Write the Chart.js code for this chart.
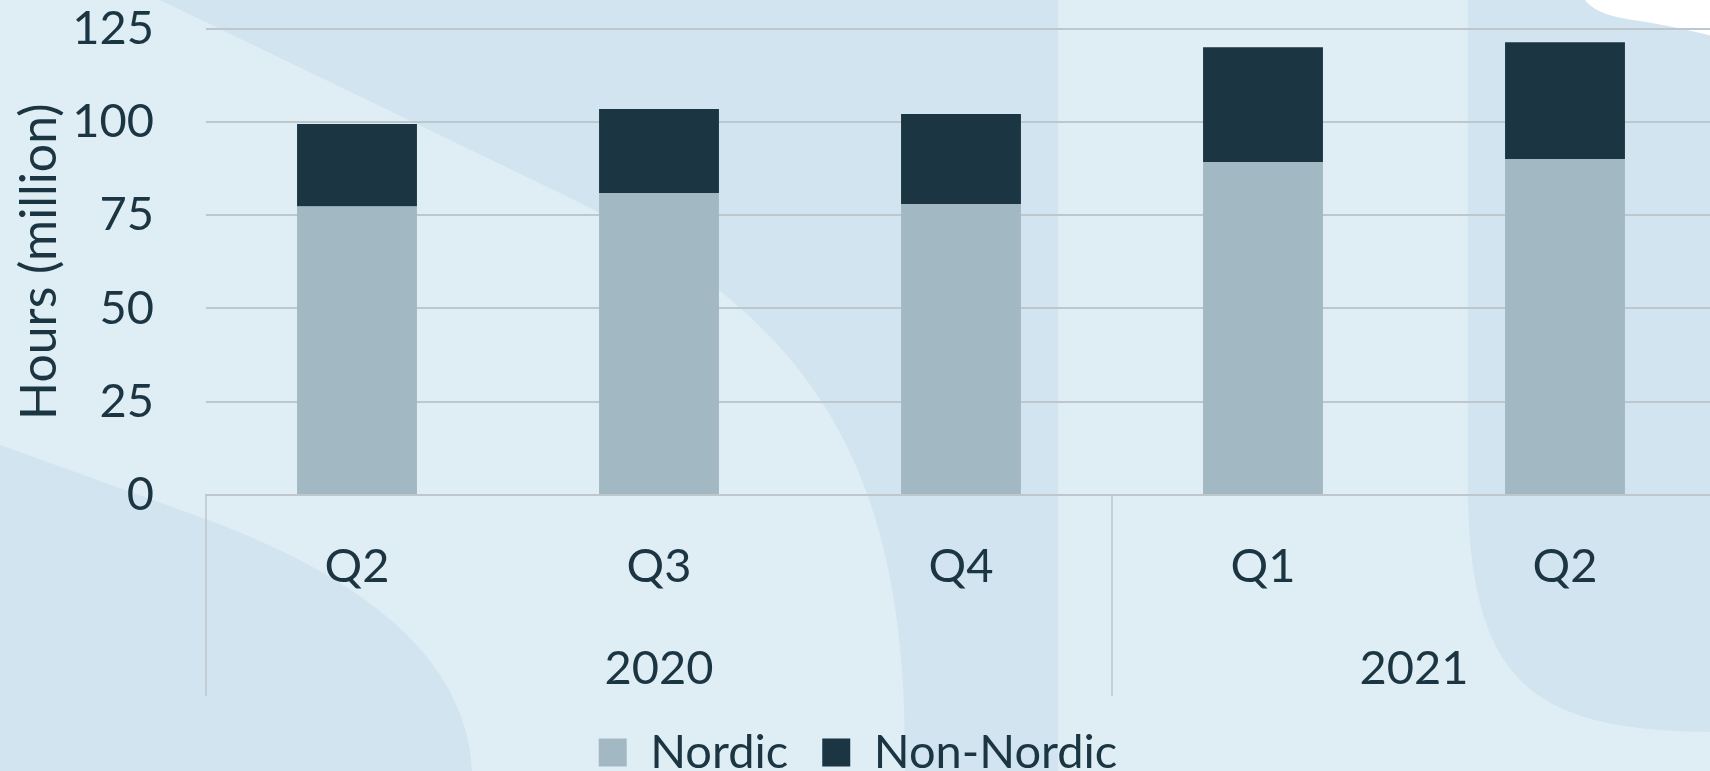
<!DOCTYPE html>
<html>
<head>
<meta charset="utf-8">
<script src="https://cdn.jsdelivr.net/npm/chart.js@4.4.0/dist/chart.umd.min.js"></script>
<style>
    html, body { margin: 0; padding: 0; width: 1710px; height: 771px; overflow: hidden; background: #dfedf5; }
    #wrap { position: relative; width: 1720px; height: 786px; }
</style>
</head>
<body>
<div id="wrap"><canvas id="hours" width="1720" height="786"></canvas></div>
<script>
// data
const quarters = ['Q2', 'Q3', 'Q4', 'Q1', 'Q2'];
const years = ['2020', '2021'];
const yearSpans = [3, 2];
const nordic = [77.3, 80.9, 78.0, 89.2, 90.0];
const nonNordic = [22.1, 22.5, 24.1, 30.8, 31.3];
const yMax = 125;
const yStep = 25;

const FONT = 'Lato, "Open Sans", sans-serif';
const FONT_SIZE = 47;
const INK = '#1b3542';
const GRID = '#bec7cc';
const LIGHT = '#dfedf5';
const DARK = '#d1e4ef';

// background shapes (decoration only)
const backdrop = {
    id: 'backdrop',
    beforeDraw(chart) {
        const { ctx, width, height } = chart;
        ctx.save();
        ctx.fillStyle = LIGHT;
        ctx.fillRect(0, 0, width, height);
        ctx.fillStyle = DARK;
        // big swoosh in the middle
        ctx.beginPath();
        ctx.moveTo(160, 0);
        ctx.lineTo(560, 193);
        ctx.bezierCurveTo(800, 310, 910, 450, 905, 771);
        ctx.lineTo(905, height);
        ctx.lineTo(1058, height);
        ctx.lineTo(1058, 0);
        ctx.closePath();
        ctx.fill();
        // lower left corner
        ctx.beginPath();
        ctx.moveTo(0, 445);
        ctx.lineTo(200, 517);
        ctx.bezierCurveTo(330, 565, 465, 640, 472, 771);
        ctx.lineTo(472, height);
        ctx.lineTo(0, height);
        ctx.closePath();
        ctx.fill();
        // right band
        ctx.beginPath();
        ctx.moveTo(1468, 0);
        ctx.lineTo(1468, 500);
        ctx.bezierCurveTo(1472, 690, 1540, 732, width, 732);
        ctx.lineTo(width, 0);
        ctx.closePath();
        ctx.fill();
        // white blob top right
        ctx.fillStyle = '#ffffff';
        ctx.beginPath();
        ctx.moveTo(1585, 0);
        ctx.bezierCurveTo(1595, 12, 1610, 17, 1640, 21);
        ctx.bezierCurveTo(1670, 26, 1690, 30, width, 38);
        ctx.lineTo(width, 0);
        ctx.closePath();
        ctx.fill();
        ctx.restore();
    },
};

// year row under the quarter labels, with group separators
const yearRow = {
    id: 'yearRow',
    afterDraw(chart) {
        const { ctx } = chart;
        const x = chart.scales.x;
        const half = (x.getPixelForValue(1) - x.getPixelForValue(0)) / 2;
        const bottom = x.top + 201;
        ctx.save();
        ctx.strokeStyle = GRID;
        ctx.lineWidth = 1.5;
        ctx.fillStyle = INK;
        ctx.font = `${FONT_SIZE}px ${FONT}`;
        ctx.textAlign = 'center';
        ctx.textBaseline = 'middle';
        let start = 0;
        yearSpans.forEach((span, i) => {
            const left = x.getPixelForValue(start) - half;
            const right = x.getPixelForValue(start + span - 1) + half;
            ctx.beginPath();
            ctx.moveTo(left, x.top);
            ctx.lineTo(left, bottom);
            ctx.stroke();
            ctx.fillText(years[i], (left + right) / 2, x.top + 173.5);
            start += span;
        });
        ctx.restore();
    },
};

const ctx = document.getElementById('hours').getContext('2d');
new Chart(ctx, {
    type: 'bar',
    data: {
        labels: quarters,
        datasets: [
            {
                label: 'Nordic',
                data: nordic,
                backgroundColor: '#a2b9c3',
                categoryPercentage: 1,
                barPercentage: 0.397,
            },
            {
                label: 'Non-Nordic',
                data: nonNordic,
                backgroundColor: '#1b3542',
                categoryPercentage: 1,
                barPercentage: 0.397,
            },
        ],
    },
    options: {
        responsive: false,
        animation: false,
        layout: {
            padding: { top: 28.5, right: 4, left: 0, bottom: 0 },
        },
        plugins: {
            legend: {
                position: 'bottom',
                labels: {
                    boxWidth: 28,
                    boxHeight: 28,
                    color: INK,
                    padding: 34,
                    font: { family: FONT, size: FONT_SIZE },
                },
            },
            tooltip: { enabled: false },
        },
        scales: {
            x: {
                stacked: true,
                grid: { display: false },
                border: { display: true, color: GRID, width: 2 },
                ticks: {
                    color: INK,
                    padding: 35.5,
                    maxRotation: 0,
                    font: { family: FONT, size: FONT_SIZE },
                },
                afterFit(scale) {
                    scale.height = 200;
                    scale.paddingLeft = 0;
                    scale.paddingRight = 0;
                },
            },
            y: {
                stacked: true,
                min: 0,
                max: yMax,
                grid: { color: GRID, lineWidth: 2, drawTicks: false },
                border: { display: false },
                ticks: {
                    stepSize: yStep,
                    color: INK,
                    padding: 52,
                    font: { family: FONT, size: FONT_SIZE },
                },
                title: {
                    display: true,
                    text: 'Hours (million)',
                    color: INK,
                    padding: { top: 10, bottom: 0 },
                    font: { family: FONT, size: 50 },
                },
                afterFit(scale) {
                    scale.width = 206;
                    scale.paddingTop = 0;
                    scale.paddingBottom = 0;
                },
            },
        },
    },
    plugins: [backdrop, yearRow],
});
</script>
</body>
</html>
